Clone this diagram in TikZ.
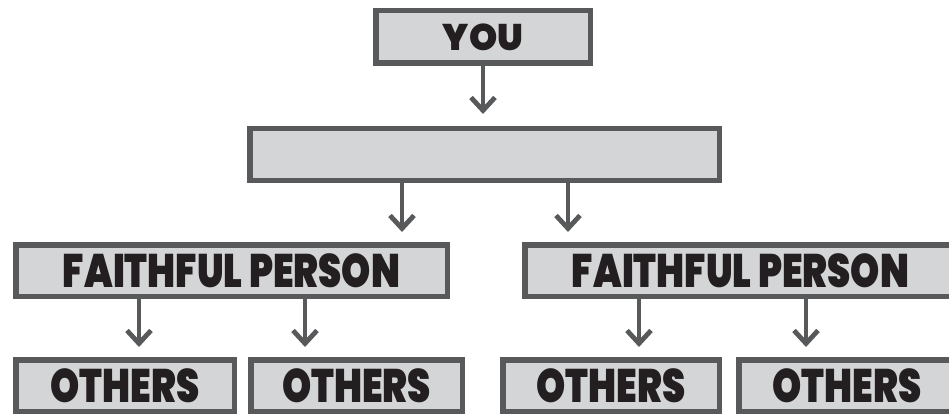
\documentclass[tikz,border=0pt]{standalone}
\usepackage{fontspec}
\newfontfamily\tagfont{Poppins}[UprightFont=* Black, FakeStretch=0.79]
\newfontfamily\youfont{Poppins}[UprightFont=* Black, FakeStretch=0.97]
\usetikzlibrary{arrows.meta}
\definecolor{framegray}{HTML}{58595B}
\definecolor{boxgray}{HTML}{D4D5D7}
\definecolor{inkblack}{HTML}{231F20}
\tikzset{
  member/.style={draw=framegray, fill=boxgray, line width=5.5pt, inner sep=0pt,
    text=inkblack, font=\tagfont\fontsize{47}{47}\selectfont},
  flow/.style={draw=framegray, line width=4.8pt, -{Straight Barb[length=13pt,width=24pt]}},
}
\newcommand{\member}[7][]{\node[member,minimum width=#5pt,minimum height=#6pt,#1] (#2) at (#3,#4) {#7};}
\newcommand{\handoff}[4]{\draw[flow,shorten >=#4pt] ([xshift=#3pt]#1.south) -- ([xshift=#3pt]#1.south |- #2.north);}

\begin{document}
\begin{tikzpicture}[x=1pt,y=1pt]
    \useasboundingbox (0,0) rectangle (949,413);
    \member[font=\youfont\fontsize{37}{37}\selectfont]{you}{483}{376}{214.5}{52.5}{YOU}
    \member{mid}{484.5}{258.5}{469.5}{51.5}{}
    \member{fpl}{231.5}{142.5}{431.5}{51.5}{FAITHFUL PERSON}
    \member{fpr}{740.5}{142.5}{431.5}{51.5}{FAITHFUL PERSON}
    \member{ol1}{125}{27.5}{218.5}{51.5}{OTHERS}
    \member{ol2}{356.5}{27.5}{211.5}{51.5}{OTHERS}
    \member{or1}{611}{27.5}{216.5}{51.5}{OTHERS}
    \member{or2}{847}{27.5}{216.5}{51.5}{OTHERS}
    \handoff{you}{mid}{0}{12}
    \handoff{mid}{fpl}{-82.5}{10}\handoff{mid}{fpr}{83.5}{10}
    \handoff{fpl}{ol1}{-92.5}{10}\handoff{fpl}{ol2}{73.5}{10}
    \handoff{fpr}{or1}{-101.5}{10}\handoff{fpr}{or2}{65.5}{10}
\end{tikzpicture}
\end{document}
